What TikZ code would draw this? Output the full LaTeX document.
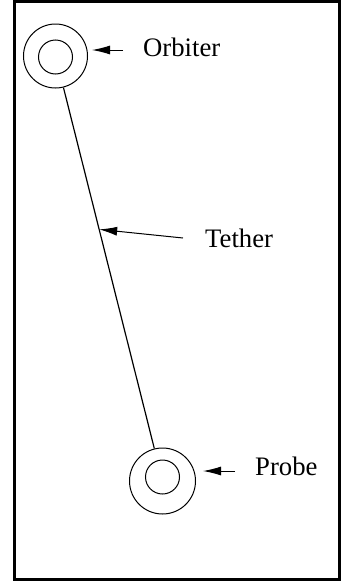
\documentclass[tikz,border=0pt]{standalone}
\usepackage{fontspec}
\setmainfont{Liberation Serif}
\usepackage{tikz}
\usetikzlibrary{arrows.meta, positioning}

\tikzset{
	ring/.style={circle, draw, line width=1pt, inner sep=0pt, minimum size=#1},
	lbl/.style={anchor=base west, inner sep=0pt, font=\fontsize{26.7}{30}\selectfont},
	pointer/.style={line width=1pt, -{Latex[length=18pt,width=9pt]}}
}

\begin{document}
\begin{tikzpicture}[x=1pt, y=-1pt]
			\useasboundingbox (0,0) rectangle (341,581);
			\draw[line width=3pt] (14.8,1.5) rectangle (339.6,579.5);
			
			\node[ring=64pt] (orbiter) at (55.5,56) {};
			\node[ring=34pt] (orbiterin) at (55.5,57) {};
			
			\node[ring=66pt] (probe) at (162.5,481) {};
			\node[ring=34pt] (probein) at (162.5,477) {};
			
			\draw[line width=1.2pt] (orbiter) -- coordinate[pos=0.393] (tmark) (probe);
			
			\node[lbl] (orbiterlbl) at (143,56) {Orbiter};
			\node[lbl] (tetherlbl) at (205,247) {Tether};
			\node[lbl] (probelbl) at (255,475) {Probe};
			
			\coordinate (otail) at (123,50);
			\coordinate (ttail) at (183,238);
			\coordinate (ptail) at (235,471);
			
			\draw[pointer] (otail) -- ++(-31,0);
			\draw[pointer] (ttail) -- (tmark);
			\draw[pointer] (ptail) -- ++(-32,0);
		\end{tikzpicture}
\end{document}
